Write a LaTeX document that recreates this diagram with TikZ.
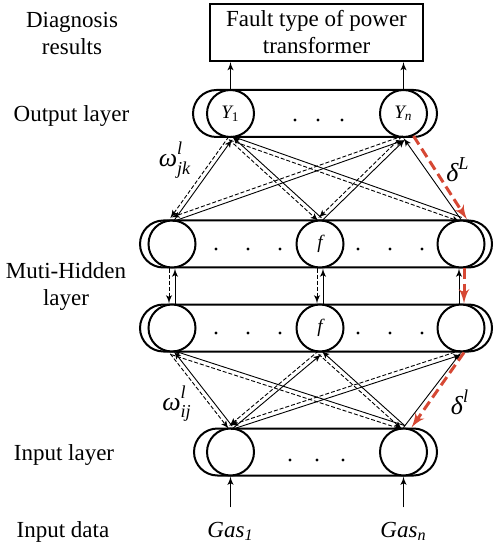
\documentclass[tikz,border=0pt]{standalone}
\usepackage{fontspec}
\setmainfont{Liberation Serif}
\usepackage{amsmath}
\usepackage{tikz}
\usetikzlibrary{calc,arrows,positioning}
\definecolor{errred}{RGB}{214,72,52}

\begin{document}
\begin{tikzpicture}[x=0.5pt,y=-0.5pt,>=latex']

  % Parameters
  \def\rnode{23.5pt}
  \def\hlyr{23.5pt}
  \def\gap{1.1pt}

  % Styles
  \tikzstyle{lbl}=[font=\fontsize{11.5}{13.5}\selectfont,align=center,inner sep=0pt]
  \tikzstyle{neuron}=[draw,line width=1pt,circle,fill=white,minimum size=\rnode,inner sep=0pt,font=\fontsize{9.5}{11}\selectfont\itshape]
  \tikzstyle{lyrbox}=[draw,line width=1pt,rounded corners=0.5*\hlyr,minimum height=\hlyr,inner sep=0pt]
  \tikzstyle{resbox}=[draw,line width=1pt,minimum width=106.5pt,minimum height=28.5pt,align=center,font=\fontsize{11.5}{13.5}\selectfont]
  \tikzstyle{fwd}=[->,line width=0.45pt]
  \tikzstyle{bwd}=[->,line width=0.45pt,dash pattern=on 2pt off 1pt]
  \tikzstyle{err}=[->,errred,line width=1.5pt,dash pattern=on 5pt off 2.5pt]
  \tikzstyle{sym}=[font=\fontsize{13}{15}\selectfont,inner sep=0pt]

  % \biedge{<lower>}{<upper>}[<gap>]
  \DeclareDocumentCommand \biedge { m m O{\gap} }{%
    \draw[fwd] ($(#1)!#3!-90:(#2)$) -- ($(#2)!#3!90:(#1)$);
    \draw[bwd] ($(#2)!#3!-90:(#1)$) -- ($(#1)!#3!90:(#2)$);
  }

  % \lyrdots{<y>}{<x-list>}
  \DeclareDocumentCommand \lyrdots { m m }{%
    \foreach \x in {#2}
      \fill (\x,#1) circle (0.8pt);
  }

  % raised superscript l
  \def\supl{\raisebox{1.5pt}{$\scriptstyle\textit{l}$}}

  \useasboundingbox (0,0) rectangle (501,550);

  % ===========================================================================

  % Left labels
  \node[lbl] (lblres) at (72,34) {Diagnosis\\results};
  \node[lbl,anchor=base] (lblout) at (71.5,122) {Output layer};
  \node[lbl] (lblhid) at (66,287) {Muti-Hidden\\layer};
  \node[lbl,anchor=base] (lblin) at (64,460) {Input layer};
  \node[lbl,anchor=base] (lbldata) at (63,537) {Input data};

  % Result box
  \node[resbox] (res) at (316.5,32.5) {Fault type of power\\transformer};

  % Layers
  \node[lyrbox,minimum width=122pt] (outlyr) at (315,113.5) {};
  \node[lyrbox,minimum width=176pt] (hid1lyr) at (316,244) {};
  \node[lyrbox,minimum width=176pt] (hid2lyr) at (316,328) {};
  \node[lyrbox,minimum width=121.5pt] (inlyr) at (315.5,452) {};

  % Neurons
  \node[neuron] (y1) at (230.5,113.5) {Y\textsubscript{\upshape 1}};
  \node[neuron] (yn) at (403.5,113.5) {Y\textsubscript{n}};
  \node[neuron] (h1l) at (172,244) {};
  \node[neuron] (h1m) at (320,244) {f};
  \node[neuron] (h1r) at (461,244) {};
  \node[neuron] (h2l) at (172,328) {};
  \node[neuron] (h2m) at (320,328) {f};
  \node[neuron] (h2r) at (461,328) {};
  \node[neuron] (in1) at (230.5,452) {};
  \node[neuron] (inn) at (403.5,452) {};

  % Dots
  \lyrdots{120}{295,318,342}
  \lyrdots{249}{216,248,280,358,390,422}
  \lyrdots{333}{216,248,280,358,390,422}
  \lyrdots{460}{290,317,343}

  % Input data
  \node[lbl,anchor=base,font=\fontsize{11.5}{13.5}\selectfont\itshape] (gas1) at (230.5,537) {Gas\textsubscript{1}};
  \node[lbl,anchor=base,font=\fontsize{11.5}{13.5}\selectfont\itshape] (gasn) at (403.5,537) {Gas\textsubscript{n}};
  \draw[fwd] ([yshift=7pt]gas1.north) -- (in1.south);
  \draw[fwd] ([yshift=7pt]gasn.north) -- (inn.south);

  % Outputs
  \draw[fwd] (y1.north) -- (y1.north |- res.south);
  \draw[fwd] (yn.north) -- (yn.north |- res.south);

  % Weights hidden -> output
  \foreach \a/\b in {h1l/y1,h1m/y1,h1r/y1,h1l/yn,h1m/yn}
    \biedge{\a.north}{\b.south};
  \draw[fwd] (h1r.north) -- (yn.south);

  % Between hidden layers
  \biedge{h2l.north}{h1l.south}[1.5pt]
  \biedge{h2m.north}{h1m.south}[1.5pt]
  \draw[fwd] ([xshift=-1pt]h2r.north) -- ([xshift=-1pt]h1r.south);

  % Weights input -> hidden
  \foreach \a/\b in {in1/h2l,in1/h2m,in1/h2r,inn/h2l,inn/h2m}
    \biedge{\a.north}{\b.south};
  \draw[fwd] (inn.north) -- (h2r.south);

  % Error back propagation
  \draw[err] ([xshift=5pt,yshift=1pt]yn.south) -- ([xshift=3pt]h1r.north);
  \draw[err] ([xshift=1.5pt]h1r.south) -- ([xshift=1.5pt]h2r.north);
  \draw[err] ([xshift=1.5pt]h2r.south) -- ([xshift=4pt]inn.north);

  % Symbols
  \node[sym] (wjk) at (175,160) {$\textit{ω}^{\supl}_{\textit{jk}}$};
  \node[sym] (wij) at (177,404) {$\textit{ω}^{\supl}_{\textit{ij}}$};
  \node[sym] (dL) at (458,170) {$\textit{δ}^{\textit{L}}$};
  \node[sym] (dl) at (460,402) {$\textit{δ}^{\textit{l}}$};

\end{tikzpicture}
\end{document}
